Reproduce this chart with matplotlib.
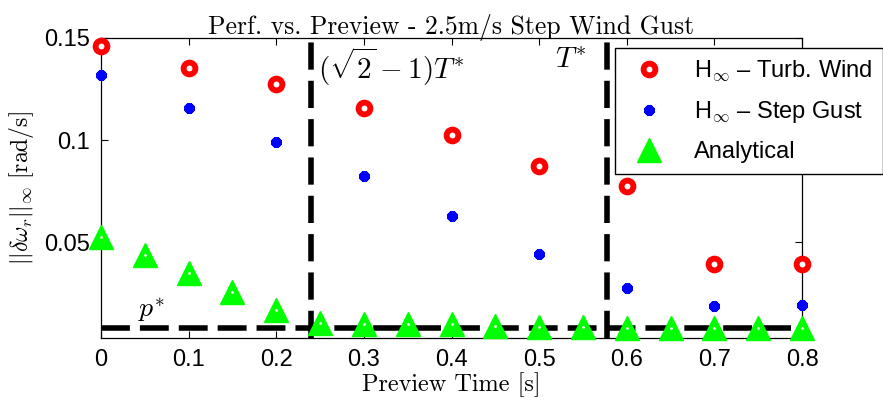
import numpy as np
import matplotlib
matplotlib.use('Agg')
import matplotlib.pyplot as plt

plt.rcParams['mathtext.fontset'] = 'cm'
plt.rcParams['font.family'] = ['Liberation Sans', 'DejaVu Sans']

# preview times [s]
t_coarse = [0.0, 0.1, 0.2, 0.3, 0.4, 0.5, 0.6, 0.7, 0.8]
t_fine = [0.0, 0.05, 0.1, 0.15, 0.2, 0.25, 0.3, 0.35, 0.4,
          0.45, 0.5, 0.55, 0.6, 0.65, 0.7, 0.75, 0.8]

# ||delta omega_r||_inf [rad/s]
hinf_turb = [0.146, 0.1355, 0.1273, 0.1157, 0.1025, 0.0873, 0.0776, 0.0395, 0.0395]
hinf_step = [0.1319, 0.1155, 0.0990, 0.0824, 0.0629, 0.0444, 0.0273, 0.0188, 0.0190]
analytical = [0.0525, 0.0436, 0.0348, 0.0255, 0.0167, 0.0104, 0.0101, 0.0098, 0.0098,
              0.0090, 0.0085, 0.0082, 0.0081, 0.0080, 0.0080, 0.0079, 0.0078]

p_star = 0.0080
T_star = 0.578

fig = plt.figure(figsize=(8.83, 4.05), dpi=100)
ax = fig.add_axes([0.1144, 0.1654, 0.7939, 0.7408])

# reference lines
ax.axhline(p_star, color='k', lw=4, dashes=(5.2, 1.8), zorder=1)
ax.axvline((np.sqrt(2) - 1) * T_star, color='k', lw=4, dashes=(4.9, 2.0), zorder=1)
ax.axvline(T_star, color='k', lw=4, dashes=(4.9, 2.0), zorder=1)

ax.plot(t_coarse, hinf_turb, 'o', ms=8.5, mew=4.2, mec='#ff0000', mfc='white',
        label=r'H$_{\infty}$ – Turb. Wind', zorder=3, clip_on=False)
ax.plot(t_coarse, hinf_step, ls='none', marker=(8, 2, 0), ms=7.5, mew=3.4,
        mec='#0000ff', color='#0000ff', label=r'H$_{\infty}$ – Step Gust',
        zorder=3, clip_on=False)
ax.plot(t_fine, analytical, '^', ms=17, mew=1, mec='#00ff00', mfc='#00ff00',
        label='Analytical', zorder=3, clip_on=False)
ax.plot(t_fine, analytical, '.', ms=2, color='white', zorder=4, clip_on=False)

ax.set_xlim(0, 0.8)
ax.set_ylim(0.003, 0.15)
ax.set_xticks(t_coarse)
ax.set_xticklabels(['0', '0.1', '0.2', '0.3', '0.4', '0.5', '0.6', '0.7', '0.8'])
ax.set_yticks([0.05, 0.1, 0.15])
ax.set_yticklabels(['0.05', '0.1', '0.15'])
ax.tick_params(direction='in', length=5, width=0.8, labelsize=17,
               top=True, right=True, pad=8)
for s in ax.spines.values():
    s.set_linewidth(0.9)

ax.set_title('Perf. vs. Preview - 2.5m/s Step Wind Gust', fontfamily='cmr10',
             fontsize=18.5, pad=3)
ax.set_xlabel('Preview Time [s]', fontfamily='cmr10', fontsize=17.5, labelpad=1)
ax.set_ylabel(r'$||\delta\omega_r||_\infty\ \mathrm{[rad/s]}$', fontsize=17, labelpad=6)

ax.text(0.2475, 0.1462, r'$(\sqrt{2}-1)T^{*}$', fontsize=21, va='top', ha='left')
ax.text(0.518, 0.1462, r'$T^{*}$', fontsize=21, va='top', ha='left')
ax.text(0.042, 0.0098, r'$p^{*}$', fontsize=20, va='bottom', ha='left')

leg = ax.legend(loc='upper left', bbox_to_anchor=(0.6965, 0.8815),
                bbox_transform=fig.transFigure, fontsize=17, numpoints=1,
                fancybox=False, framealpha=1, edgecolor='k', borderpad=0.45,
                handlelength=2.0, handletextpad=0.9, labelspacing=0.68,
                borderaxespad=0)
leg.get_frame().set_linewidth(1.0)

fig.savefig('out.png', dpi=100)
